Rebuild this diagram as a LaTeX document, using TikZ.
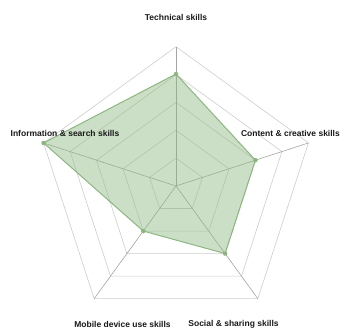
\documentclass[tikz,border=0pt]{standalone}
\usepackage{fontspec}
\setmainfont{Liberation Sans}
\usetikzlibrary{calc}
\definecolor{gridc}{RGB}{205,205,205}
\definecolor{fillc}{RGB}{140,185,130}
\definecolor{linec}{RGB}{140,182,128}
\definecolor{txt}{RGB}{25,25,25}
\tikzset{
  ring/.style={draw=gridc, line width=0.6pt},
  spoke/.style={draw=gridc!80!black, line width=0.6pt},
  area/.style={fill=fillc, fill opacity=0.45, draw=linec, line width=1pt, line join=round},
  dot/.style={circle, fill=linec, inner sep=0pt, minimum size=4.5pt},
  lbl/.style={font=\fontsize{8.5}{10}\selectfont\bfseries, text=txt, inner sep=0pt}
}
\begin{document}
\begin{tikzpicture}[x=1pt,y=1pt]
\useasboundingbox (0,0) rectangle (340,329);
\coordinate (O) at (176,143);
% rings
\foreach \k in {1,...,5}{
  \draw[ring] ($(O)+(90:\k*27.85)$) -- ($(O)+(18:\k*27.85)$) -- ($(O)+(-54:\k*27.85)$) -- ($(O)+(-126:\k*27.85)$) -- ($(O)+(162:\k*27.85)$) -- cycle;
}
% spokes
\foreach \a/\n in {90/t,18/c,-54/s,-126/m,162/i}{
  \coordinate (e\n) at ($(O)+(\a:139.25)$);
  \draw[spoke] (O) -- (e\n);
}
% data
\coordinate (pt) at ($(O)+(90:112)$);
\coordinate (pc) at ($(O)+(18:83.5)$);
\coordinate (ps) at ($(O)+(-54:83.5)$);
\coordinate (pm) at ($(O)+(-126:55.7)$);
\coordinate (pi) at ($(O)+(162:139.25)$);
\draw[area] (pt) -- (pc) -- (ps) -- (pm) -- (pi) -- cycle;
\foreach \p in {pt,pc,ps,pm,pi}{ \node[dot] (d\p) at (\p) {}; }
% labels
\node[lbl] (lt) at (176,312) {Technical skills};
\node[lbl, anchor=east] (lc) at (340,195.7) {Content \& creative skills};
\node[lbl] (li) at (65,195.7) {Information \& search skills};
\node[lbl] (lm) at (122.5,5) {Mobile device use skills};
\node[lbl] (ls) at (233.5,5) {Social \& sharing skills};
\end{tikzpicture}
\end{document}
